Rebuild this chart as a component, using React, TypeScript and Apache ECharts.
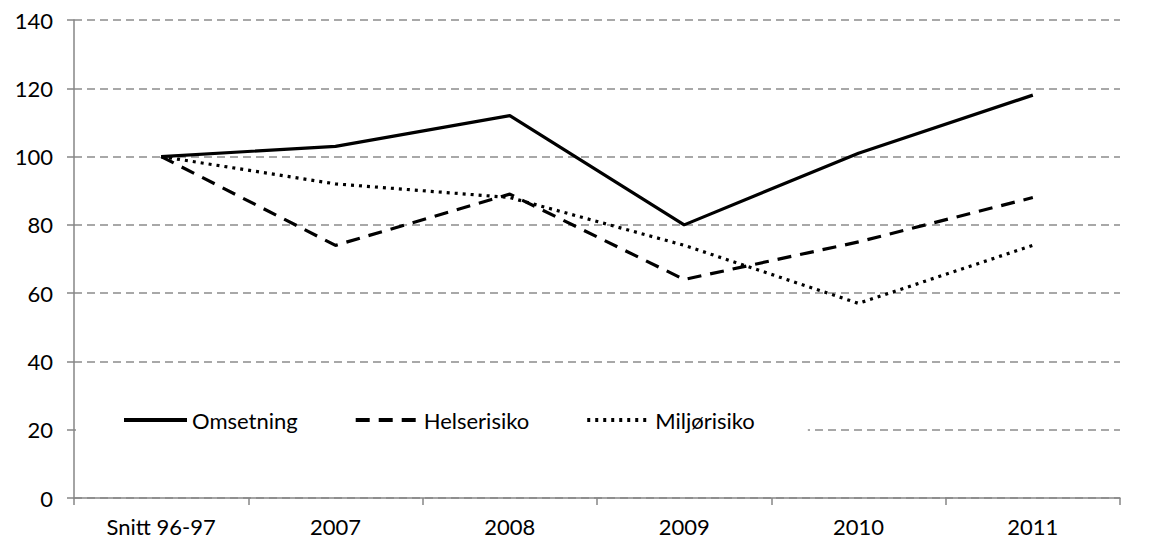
import React, { useEffect, useRef } from "react";
import * as echarts from "echarts";

const categories = ["Snitt 96-97", "2007", "2008", "2009", "2010", "2011"];
const omsetning = [100, 103, 112, 80, 101, 118];
const helserisiko = [100, 74, 89, 64, 75, 88];
const miljorisiko = [100, 92, 88, 74, 57, 74];
const seriesNames = ["Omsetning", "Helserisiko", "Miljørisiko"];

const FONT = "Lato";
const AXIS_GREY = "#868686";

export default function App() {
  const ref = useRef<HTMLDivElement>(null);
  useEffect(() => {
    if (!ref.current) return;
    const chart = echarts.init(ref.current, undefined, { renderer: "svg" });
    const lineBase = { type: "line", symbol: "none", smooth: false, z: 3 };
    chart.setOption({
      animation: false,
      backgroundColor: "#fff",
      textStyle: { fontFamily: FONT },
      grid: { left: 74, right: 29, top: 20, bottom: 46, containLabel: false },
      legend: {
        left: 76,
        top: 400,
        padding: [9, 53, 9, 46],
        backgroundColor: "#fff",
        itemWidth: 63,
        itemHeight: 22,
        itemGap: 56,
        z: 10,
        itemStyle: { opacity: 0, borderWidth: 0 },
        lineStyle: { width: 4 },
        textStyle: { fontFamily: FONT, fontSize: 22, color: "#000" },
        data: seriesNames,
      },
      xAxis: {
        type: "category",
        data: categories,
        boundaryGap: true,
        axisLine: { lineStyle: { color: AXIS_GREY, width: 1.5 } },
        axisTick: { show: true, length: 7, alignWithLabel: false, lineStyle: { color: AXIS_GREY, width: 1.5 } },
        axisLabel: { fontFamily: FONT, fontSize: 22, color: "#000", margin: 17 },
        splitLine: { show: false },
      },
      yAxis: {
        type: "value",
        min: 0,
        max: 140,
        interval: 20,
        axisLine: { show: true, lineStyle: { color: AXIS_GREY, width: 1.5 } },
        axisTick: { show: true, length: 7, lineStyle: { color: AXIS_GREY, width: 1.5 } },
        axisLabel: { fontFamily: FONT, fontSize: 22, color: "#000", margin: 21 },
        splitLine: { show: true, lineStyle: { color: "#8c8c8c", width: 1.5, type: [8, 5] } },
      },
      series: [
        { ...lineBase, name: seriesNames[0], data: omsetning, lineStyle: { color: "#000", width: 3.2, type: "solid" }, itemStyle: { color: "#000" } },
        { ...lineBase, name: seriesNames[1], data: helserisiko, lineStyle: { color: "#000", width: 3.2, type: [14, 9] }, itemStyle: { color: "#000" } },
        { ...lineBase, name: seriesNames[2], data: miljorisiko, lineStyle: { color: "#000", width: 3.2, type: [3, 5] }, itemStyle: { color: "#000" } },
      ],
    });
    return () => chart.dispose();
  }, []);
  return <div ref={ref} style={{ width: 1149, height: 544, position: "absolute", left: 0, top: 0 }} />;
}
